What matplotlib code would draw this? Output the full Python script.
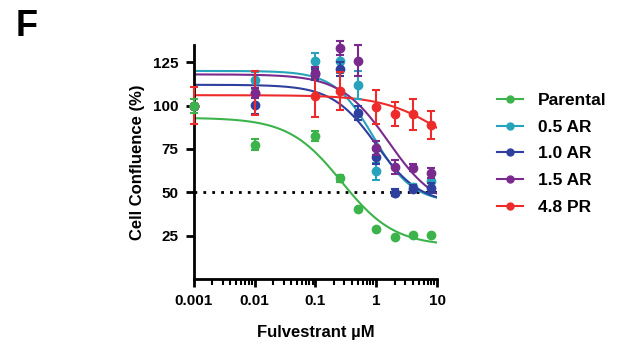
import numpy as np
import matplotlib
matplotlib.use("Agg")
import matplotlib.pyplot as plt

plt.rcParams['font.family'] = ['Liberation Sans', 'DejaVu Sans']
plt.rcParams['font.weight'] = 'bold'

# doses (uM)
dose = [0.001, 0.01, 0.1, 0.25, 0.5, 1, 2, 4, 8]
nan = np.nan

# mean confluence (%) and error per line
parental = [100, 77.5, 82.5, 58, 40.5, 28.5, 24, 25.5, 25.3]
parental_err = [4, 3, 3, 2, 0, 0, 0, 0, 0]
ar05 = [100, 114.6, 125.6, 125.6, 111.7, 62, 49.6, 53, 56.7]
ar05_err = [0, 5, 5, 7, 8, 5, 2, 2, 4]
ar10 = [100, 100.6, 118, 121, 95.8, 70.2, 49.6, 52, 52.5]
ar10_err = [0, 5.5, 3, 4, 4, 4, 2, 2, 3]
ar15 = [100, 107.3, 119, 133, 126, 75.6, 64.6, 64, 61]
ar15_err = [0, 3, 3, 4, 9, 4, 4, 2, 3]
pr48 = [100, 107.3, 105.4, 108.3, nan, 99.2, 95.2, 95, 89]
pr48_err = [10.5, 12.5, 12, 11, 0, 10, 7, 9, 8]

# fitted curve parameters: top, bottom, ec50, hill
fits = {
    'Parental': (93, 19, 0.27, 1.0),
    '0.5 AR': (120, 44, 0.9, 1.35),
    '1.0 AR': (112, 43, 1.0, 1.2),
    '1.5 AR': (118, 40, 1.6, 1.1),
    '4.8 PR': (106, 65, 12.0, 0.9),
}

series = [('Parental', parental, parental_err, '#3cb44b', 8),
          ('0.5 AR', ar05, ar05_err, '#27a3bb', 4),
          ('1.0 AR', ar10, ar10_err, '#2e3f9e', 5),
          ('1.5 AR', ar15, ar15_err, '#7a2a8c', 7),
          ('4.8 PR', pr48, pr48_err, '#ee2b2b', 6)]

fig = plt.figure(figsize=(6.27, 3.43), dpi=100)
ax = fig.add_axes([0.309, 0.187, 0.388, 0.682])

xs = np.logspace(-3, 1, 300)
ax.plot([0.001, 10], [50, 50], color='black', ls=(0, (1, 2.2)), lw=2, zorder=1)

for name, y, err, col, z in series:
    top, bot, ec, h = fits[name]
    ax.plot(xs, bot + (top - bot) / (1 + (xs / ec) ** h), color=col, lw=1.5, zorder=2)
    ax.errorbar(dose, y, yerr=err, fmt='o', color=col, ms=6, capsize=3,
                elinewidth=1.5, capthick=1.5, zorder=z, clip_on=False)
    ax.plot([], [], '-o', color=col, ms=5, lw=1.5, label=name)

ax.set_xscale('log')
ax.set_xlim(0.001, 10)
ax.set_ylim(0, 135)
ax.set_yticks([25, 50, 75, 100, 125])
ax.set_xticks([0.001, 0.01, 0.1, 1, 10])
ax.set_xticklabels(['0.001', '0.01', '0.1', '1', '10'])
for s in ['top', 'right']:
    ax.spines[s].set_visible(False)
for s in ['left', 'bottom']:
    ax.spines[s].set_linewidth(2)
ax.tick_params(width=2, length=6, labelsize=11, pad=5)
ax.tick_params(which='minor', width=1.5, length=4)
ax.set_xlabel('Fulvestrant µM', fontsize=12, fontweight='bold', labelpad=12)
ax.set_ylabel('Cell Confluence (%)', fontsize=12, fontweight='bold', labelpad=6)

fig.legend(loc='upper left', bbox_to_anchor=(0.781, 0.749), frameon=False,
           prop={'size': 12.5, 'weight': 'bold'}, handlelength=1.5,
           labelspacing=0.66, borderaxespad=0, handletextpad=0.87)

fig.text(0.025, 0.975, 'F', fontsize=26, fontweight='bold', va='top')

fig.savefig('out.png', dpi=100)
